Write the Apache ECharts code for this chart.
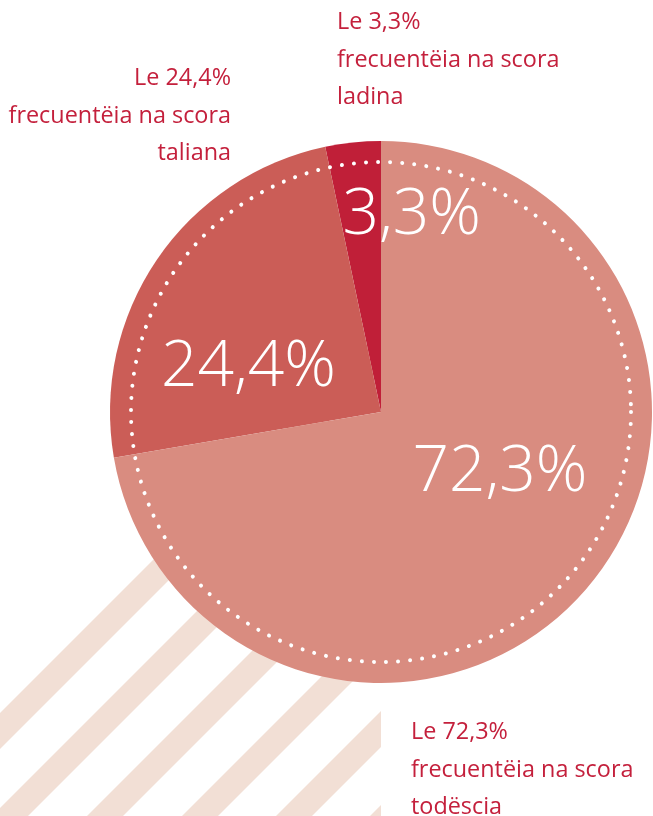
<!DOCTYPE html>
<html>
<head>
<meta charset="utf-8">
<script src="https://cdn.jsdelivr.net/npm/echarts@6/dist/echarts.min.js"></script>
<style>
html,body{margin:0;padding:0;background:#fff;}
#chart{width:653px;height:816px;}
</style>
</head>
<body>
<div id="chart"></div>
<script>
// ---- data ----
var categories = ['ladina', 'taliana', 'todëscia'];
var values = [3.3, 24.4, 72.3];
var captionPrefix = 'Le ';
var captionMiddle = 'frecuentëia na scora';

// ---- styles ----
var sliceColors = ['#c01f38', '#cb5d57', '#d98c80'];
var textRed = '#c4203c';
var stripeColor = '#f2dfd5';
var CX = 381, CY = 412, R = 271, DOT_R = 250;

function fmt(v){ return String(v).replace('.', ',') + '%'; }

// Stripes (decorative), band centers along x+y, clipped to rect
var stripeCenters = [731, 826, 921, 1016, 1110, 1204];
function clipPoly(poly, inside, intersect){
  var out = [];
  for (var i=0;i<poly.length;i++){
    var a = poly[i], b = poly[(i+1)%poly.length];
    var ia = inside(a), ib = inside(b);
    if (ia) out.push(a);
    if (ia !== ib) out.push(intersect(a,b));
  }
  return out;
}
function stripePoly(c, half, x0, x1, y0, y1){
  var poly = [[x0,y0],[x1,y0],[x1,y1],[x0,y1]];
  function lerpS(a,b,s){ var sa=a[0]+a[1], sb=b[0]+b[1]; var t=(s-sa)/(sb-sa); return [a[0]+(b[0]-a[0])*t, a[1]+(b[1]-a[1])*t]; }
  poly = clipPoly(poly, function(p){return p[0]+p[1] >= c-half;}, function(a,b){return lerpS(a,b,c-half);});
  poly = clipPoly(poly, function(p){return p[0]+p[1] <= c+half;}, function(a,b){return lerpS(a,b,c+half);});
  return poly;
}
var graphics = [];
stripeCenters.forEach(function(c){
  var pts = stripePoly(c, 18, 0, 381, 300, 816);
  if (pts.length >= 3) graphics.push({type:'polygon', z:0, shape:{points:pts}, style:{fill:stripeColor}, silent:true});
});
graphics.push({type:'circle', z:100, shape:{cx:CX, cy:CY, r:DOT_R},
  style:{fill:null, stroke:'#fff', lineWidth:4, lineDash:[0.01, 12.1], lineCap:'round'}, silent:true});

var captionPos = [
  {x:337, y:4, align:'left'},
  {x:231, y:60, align:'right'},
  {x:411, y:714, align:'left'}
];
categories.forEach(function(cat, i){
  var p = captionPos[i];
  graphics.push({type:'text', z:100, x:p.x, y:p.y, silent:true,
    style:{text: captionPrefix + fmt(values[i]) + '\n' + captionMiddle + '\n' + cat,
      fill:textRed, font:'23.4px "Open Sans"', lineHeight:37.5, align:p.align, verticalAlign:'top'}});
});

var labelShift = [[45,-58],[-18,34],[13,-29]];

var chart = echarts.init(document.getElementById('chart'));
chart.setOption({
  animation:false,
  graphic: graphics,
  series:[{
    type:'pie',
    z:2,
    center:[CX, CY],
    radius:[0, R],
    startAngle:90,
    clockwise:false,
    avoidLabelOverlap:false,
    silent:true,
    data: categories.map(function(c,i){ return {name:c, value:values[i], itemStyle:{color:sliceColors[i]}}; }),
    itemStyle:{borderWidth:0},
    label:{show:true, position:'inside', formatter:function(p){return fmt(p.value);},
      color:'#fff', fontSize:64, fontWeight:300, fontFamily:'Open Sans'},
    labelLine:{show:false},
    labelLayout:function(params){ var s = labelShift[params.dataIndex]; return {dx:s[0], dy:s[1]}; }
  }]
});
</script>
</body>
</html>
